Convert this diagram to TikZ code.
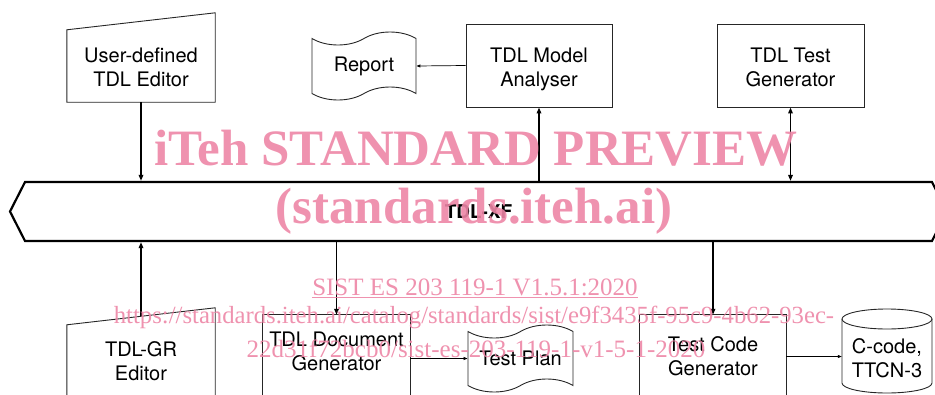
\documentclass[tikz,border=0pt]{standalone}
\usepackage{fontspec}
\setmainfont{TeX Gyre Heros}
\newfontfamily\wmfont{Liberation Serif}
\usepackage{xcolor}
\usepackage{tikz}
\usetikzlibrary{shapes,calc}
\usetikzlibrary{positioning}
\usetikzlibrary{arrows.meta}
\definecolor{wmpink}{RGB}{237,134,166}
\newcommand{\twoline}[2]{\rule{0pt}{21.5pt}#1\\#2\rule[-4.5pt]{0pt}{4.5pt}}

\begin{document}
\begin{tikzpicture}[x=1pt,y=-1pt,
    font=\fontsize{20}{24}\selectfont,
    box/.style={draw=black!85,line width=0.9pt,align=center,inner sep=0pt},
    txt/.style={align=center,inner sep=0pt},
    arr/.style={-{Triangle[length=6pt,width=4.5pt]},line width=1.9pt},
    dblarr/.style={{Triangle[length=6pt,width=4.5pt]}-{Triangle[length=6pt,width=4.5pt]},line width=1.9pt},
    thinarr/.style={-{Triangle[length=4pt,width=3pt]},line width=0.7pt},
    wm/.style={text=wmpink,opacity=0.9,inner sep=0pt,anchor=base}]
    \useasboundingbox (0,0) rectangle (935,394);
    \clip (0,0) rectangle (935,394);

    % top tools
    \node[txt,minimum width=148pt,minimum height=72pt] (ude) at (141,66) {\twoline{User-defined}{TDL Editor}};
    \draw[box] (ude.south west) -- (ude.south east) -- ($(ude.north east)+(0,-17)$) -- (ude.north west) -- cycle;
    \node[box,tape,minimum width=104pt,minimum height=68pt,tape bend height=13pt] (report) at (364,66) {Report};
    \node[box,minimum width=146pt,minimum height=83pt] (tma) at (539,65.5) {\twoline{TDL Model}{Analyser}};
    \node[box,minimum width=147pt,minimum height=83pt] (ttg) at (790.5,65.5) {\twoline{TDL Test}{Generator}};

    % exchange format
    \node[draw,line width=2.2pt,signal,signal to=west and east,signal pointer angle=126,
          minimum width=937pt,minimum height=59pt,inner sep=0pt,
          font=\bfseries\fontsize{19}{22}\selectfont] (xf) at (478.5,211.5) {TDL-XF};

    % bottom tools
    \node[txt,minimum width=148pt,minimum height=69pt] (gre) at (141,359.5) {\twoline{TDL-GR}{Editor}};
    \draw[box] ($(gre.south west)+(0,30)$) -- (gre.north west) -- ($(gre.north east)+(0,-17)$) -- ($(gre.south east)+(0,30)$);
    \coordinate (gretop) at ($(gre.north west)!0.5!(gre.north east)+(0,-8.5)$);
    \node[txt,minimum width=147pt,minimum height=69pt] (tdg) at (336.5,349.5) {\twoline{TDL Document}{Generator}};
    \draw[box] (tdg.north west) rectangle ($(tdg.south east)+(0,40)$);
    \node[box,tape,minimum width=105pt,minimum height=67pt,tape bend height=13pt] (plan) at (520.5,358.5) {Test Plan};
    \node[txt,minimum width=146pt,minimum height=79pt] (tcg) at (713,354.5) {\twoline{Test Code}{Generator}};
    \draw[box] (tcg.north west) rectangle ($(tcg.south east)+(0,30)$);
    \node[txt,minimum width=90pt,minimum height=60pt] (cyl) at (887,356.5) {\twoline{C-code,}{TTCN-3}};
    \draw[box] ($(cyl.center)+(-45,-37.5)$) -- ($(cyl.center)+(-45,26.5)$)
        arc[start angle=180,end angle=360,x radius=45pt,y radius=10pt] -- ($(cyl.center)+(45,-37.5)$);
    \draw[box] ($(cyl.center)+(0,-37.5)$) ellipse[x radius=45pt,y radius=10pt];

    %connections to TDL-XF
    \draw[arr] (ude.south) -- (ude.south |- xf.north);
    \draw[arr] (tma.south |- xf.north) -- (tma.south);
    \draw[dblarr] (ttg.south) -- (ttg.south |- xf.north);
    \draw[arr] (gretop) -- (gretop |- xf.south);
    \draw[arr] (tdg.north |- xf.south) -- (tdg.north);
    \draw[arr] (tcg.north |- xf.south) -- (tcg.north);

    %outputs
    \draw[thinarr] (tma.west) -- (report.east);
    \draw[thinarr] (tdg.east |- plan.west) -- (plan.west);
    \draw[thinarr] (tcg.east |- cyl.west) -- (cyl.west);

    %watermark
    \node[wm,font=\wmfont\bfseries\fontsize{51}{51}\selectfont] (wm1) at (476,165) {iTeh STANDARD PREVIEW};
    \node[wm,font=\wmfont\bfseries\fontsize{51}{51}\selectfont] (wm2) at (474,223) {(standards.iteh.ai)};
    \node[wm,font=\wmfont\fontsize{25}{25}\selectfont] (wm3) at (475,295) {\underline{SIST ES 203 119-1 V1.5.1:2020}};
    \node[wm,font=\wmfont\fontsize{24.7}{25}\selectfont] (wm4) at (474,323) {https://standards.iteh.ai/catalog/standards/sist/e9f3435f-95c9-4b62-93ec-};
    \node[wm,font=\wmfont\fontsize{25}{25}\selectfont] (wm5) at (476,357) {22d31f72bcb0/sist-es-203-119-1-v1-5-1-2020};
\end{tikzpicture}
\end{document}
